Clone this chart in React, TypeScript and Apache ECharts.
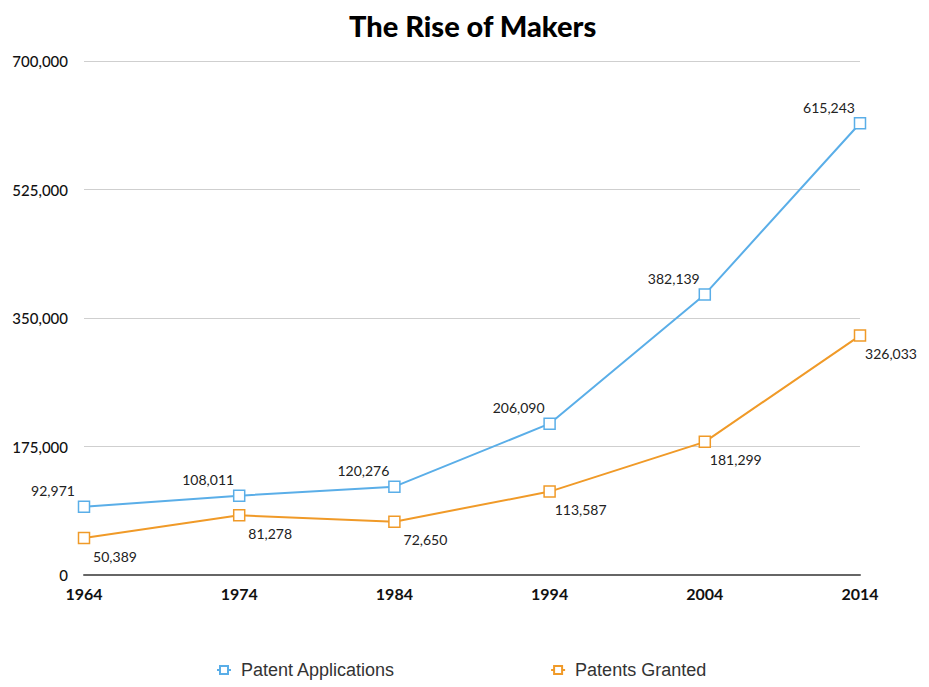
import React, { useEffect, useRef } from "react";
import * as echarts from "echarts";

const years = ["1964", "1974", "1984", "1994", "2004", "2014"];
const applications = [92971, 108011, 120276, 206090, 382139, 615243];
const granted = [50389, 81278, 72650, 113587, 181299, 326033];
const seriesNames = ["Patent Applications", "Patents Granted"];

const BLUE = "#5aaee8";
const ORANGE = "#f09a28";

const fmt = (v: number) => v.toLocaleString("en-US");

export default function App() {
  const ref = useRef<HTMLDivElement>(null);
  useEffect(() => {
    const chart = echarts.init(ref.current!, null, { renderer: "svg" });
    chart.setOption({
      animation: false,
      backgroundColor: "#ffffff",
      title: {
        text: "The Rise of Makers",
        left: 344,
        top: 6,
        textStyle: { fontFamily: "Lato", fontWeight: 900, fontSize: 29, color: "#000" },
      },
      legend: {
        bottom: 3,
        left: 211,
        itemGap: 155,
        itemWidth: 14,
        itemHeight: 10,
        textStyle: { fontFamily: "Liberation Sans", fontSize: 18, color: "#333", padding: [0, 0, 0, 5] },
        data: seriesNames,
      },
      grid: { left: 84, right: 69, top: 61, bottom: 112, containLabel: false },
      xAxis: {
        type: "category",
        data: years,
        boundaryGap: false,
        axisLine: { lineStyle: { color: "#666", width: 2 } },
        axisTick: { show: false },
        axisLabel: { fontFamily: "Lato", fontWeight: "bold", fontSize: 16, color: "#111", margin: 10 },
      },
      yAxis: {
        type: "value",
        min: 0,
        max: 700000,
        interval: 175000,
        axisLine: { show: false },
        axisTick: { show: false },
        splitLine: { lineStyle: { color: "#cfcfcf", width: 1 } },
        axisLabel: {
          fontFamily: "Lato",
          fontSize: 15,
          fontWeight: 500,
          color: "#111",
          margin: 16,
          formatter: (v: number) => fmt(v),
        },
      },
      series: [
        {
          name: seriesNames[0],
          type: "line",
          data: applications,
          symbol: "rect",
          symbolSize: 11,
          itemStyle: { color: "#fff", borderColor: BLUE, borderWidth: 1.5 },
          lineStyle: { color: BLUE, width: 2 },
          label: {
            show: true,
            position: "inside",
            offset: [-31, -16],
            fontFamily: "Lato",
            fontSize: 14,
            color: "#222",
            formatter: (p: any) => fmt(p.value),
          },
        },
        {
          name: seriesNames[1],
          type: "line",
          data: granted,
          symbol: "rect",
          symbolSize: 11,
          itemStyle: { color: "#fff", borderColor: ORANGE, borderWidth: 1.5 },
          lineStyle: { color: ORANGE, width: 2 },
          label: {
            show: true,
            position: "inside",
            offset: [31, 18],
            fontFamily: "Lato",
            fontSize: 14,
            color: "#222",
            formatter: (p: any) => fmt(p.value),
          },
        },
      ],
    });
    return () => chart.dispose();
  }, []);
  return (
    <div
      ref={ref}
      style={{ position: "fixed", left: 0, top: 0, width: 929, height: 687 }}
    />
  );
}
